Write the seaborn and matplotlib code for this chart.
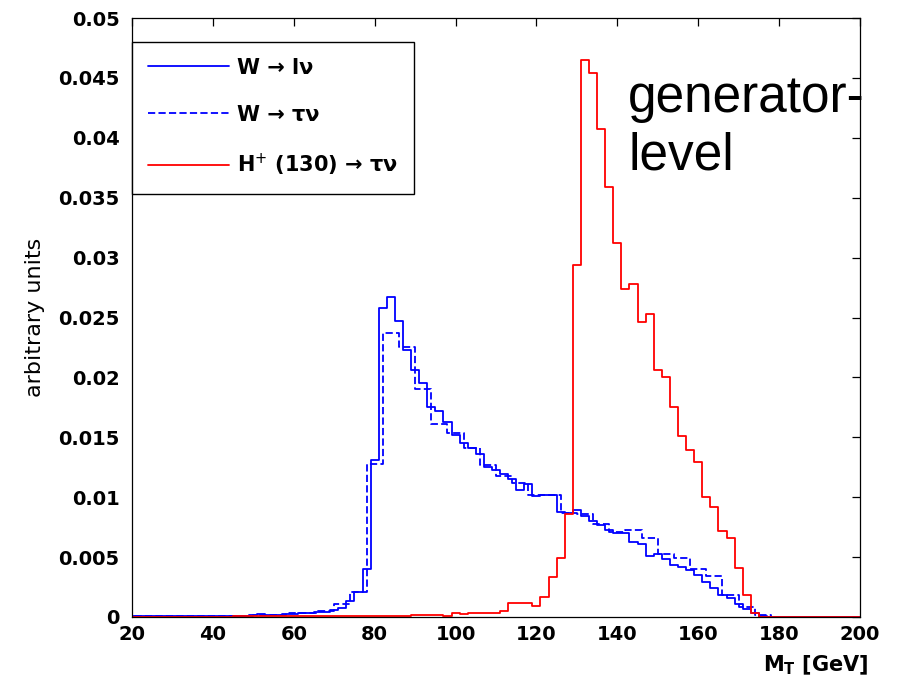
import numpy as np
import pandas as pd
import matplotlib
matplotlib.use("Agg")
import matplotlib.pyplot as plt
import seaborn as sns

# ---------------- data (values in units of 1e-3, "arbitrary units") ----------------
SCALE = 1e-3

# 2 GeV bins, centres 20 ... 200
mt_fine = list(range(20, 201, 2))
w_lnu = ([0.1] * 15 +
         [0.15, 0.25, 0.2, 0.2, 0.25, 0.25, 0.35, 0.35, 0.4, 0.45,
          0.6, 0.75, 1.3, 2.1, 4.0, 13.1, 25.8, 26.7, 24.7, 22.3,
          20.6, 19.5, 17.5, 17.2, 16.3, 15.2, 14.5, 14.1, 13.6, 12.5,
          12.3, 11.9, 11.5, 10.6, 11.1, 10.1, 10.2, 10.2, 8.8, 8.7,
          8.9, 8.4, 8.0, 7.7, 7.3, 7.0, 7.0, 6.3, 6.1, 5.1,
          5.3, 4.8, 4.3, 4.2, 3.9, 3.5, 2.9, 2.4, 1.8, 1.6,
          1.1, 0.7, 0.3, 0.1] +
         [0.0] * 12)
h_taunu = ([0.03] * 13 +
           [0.05] * 18 +
           [0.1, 0.1, 0.1, 0.1, 0.2, 0.2, 0.2, 0.2, 0.1, 0.3,
            0.25, 0.35, 0.3, 0.3, 0.3, 0.5, 1.2, 1.2, 1.15, 0.9,
            1.7, 3.3, 4.9, 8.6, 29.4, 46.5, 45.4, 40.7, 35.9, 31.2,
            27.4, 27.8, 24.6, 25.3, 20.6, 20.0, 17.5, 15.1, 13.9, 12.9,
            10.0, 9.2, 7.2, 6.6, 4.1, 1.8, 0.3] +
           [0.03] * 13)

# 4 GeV bins, centres 20 ... 200
mt_coarse = list(range(20, 201, 4))
w_taunu = ([0.1] * 8 +
           [0.2, 0.2, 0.3, 0.35, 0.5, 1.1, 2.1, 12.8, 23.7, 22.5,
            19.0, 16.1, 15.4, 14.1, 12.7, 11.8, 11.2, 10.2, 10.2, 8.7,
            8.6, 7.8, 7.1, 7.3, 6.6, 5.3, 4.9, 4.0, 3.4, 1.8,
            0.8, 0.15] +
           [0.0] * 6)

series_labels = ["W \u2192 l\u03bd", "W \u2192 \u03c4\u03bd", "H$^{+}$ (130) \u2192 \u03c4\u03bd"]
x_ticks = [20, 40, 60, 80, 100, 120, 140, 160, 180, 200]
y_ticks = [0, 0.005, 0.01, 0.015, 0.02, 0.025, 0.03, 0.035, 0.04, 0.045, 0.05]
y_tick_labels = ["0", "0.005", "0.01", "0.015", "0.02", "0.025", "0.03",
                 "0.035", "0.04", "0.045", "0.05"]

# ---------------- tables ----------------
df_fine = pd.DataFrame({"mt": mt_fine,
                        "w_lnu": np.array(w_lnu) * SCALE,
                        "h_taunu": np.array(h_taunu) * SCALE})
df_coarse = pd.DataFrame({"mt": mt_coarse, "w_taunu": np.array(w_taunu) * SCALE})
edges_fine = [float(e) for e in range(mt_fine[0] - 1, mt_fine[-1] + 2, 2)]
edges_coarse = [float(e) for e in range(mt_coarse[0] - 2, mt_coarse[-1] + 3, 4)]

# ---------------- style ----------------
sns.set_theme(style="white")
plt.rcParams["font.family"] = ["DejaVu Sans"]
plt.rcParams["axes.linewidth"] = 0.9
for key in ["text.color", "axes.labelcolor", "xtick.color", "ytick.color",
            "axes.edgecolor"]:
    plt.rcParams[key] = "black"

fig = plt.figure(figsize=(8.97, 6.88), dpi=100)
ax = fig.add_axes([132 / 897, 1 - 617 / 688, (860 - 132) / 897, (617 - 18) / 688])

BLUE = "#0000ff"
RED = "#ff0000"
LW = 1.3

sns.histplot(data=df_fine, x="mt", weights="w_lnu", bins=edges_fine,
             element="step", fill=False, color=BLUE, linewidth=LW, ax=ax)
h1 = ax.lines[-1]
sns.histplot(data=df_coarse, x="mt", weights="w_taunu", bins=edges_coarse,
             element="step", fill=False, color=BLUE, linewidth=LW,
             linestyle=(0, (4, 1.8)), ax=ax)
h2 = ax.lines[-1]
sns.histplot(data=df_fine, x="mt", weights="h_taunu", bins=edges_fine,
             element="step", fill=False, color=RED, linewidth=LW, ax=ax)
h3 = ax.lines[-1]

ax.set_xlim(20, 200)
ax.set_ylim(0, 0.05)
ax.set_xticks(x_ticks)
ax.set_xticklabels([str(t) for t in x_ticks])
ax.set_yticks(y_ticks)
ax.set_yticklabels(y_tick_labels)
ax.tick_params(axis="both", which="both", direction="in", length=5.5, width=0.9,
               top=True, right=True, labelsize=14, colors="black")
ax.tick_params(axis="y", pad=9)
ax.tick_params(axis="x", pad=6)
for lab in ax.get_xticklabels() + ax.get_yticklabels():
    lab.set_fontweight("bold")
for s in ax.spines.values():
    s.set_color("black")
    s.set_linewidth(0.9)

ax.set_ylabel("arbitrary units", fontsize=16, color="black")
ax.yaxis.set_label_coords(-0.119, 0.5)
ax.set_xlabel("M$_\\mathregular{T}$ [GeV]", fontsize=15, fontweight="bold",
              loc="right", color="black")
ax.xaxis.set_label_coords(1.012, -0.062)

leg = ax.legend([h1, h2, h3], series_labels, loc="upper left",
                bbox_to_anchor=(0.0, 0.96), borderaxespad=0, frameon=True,
                fancybox=False, edgecolor="black", framealpha=1,
                handlelength=3.9, handletextpad=0.4, labelspacing=1.3,
                borderpad=0.75, prop={"weight": "bold", "size": 15})
leg.get_frame().set_linewidth(1.0)
for t in leg.get_texts():
    t.set_color("black")

fig.text(628 / 897, 1 - 170 / 688, "generator-\nlevel", fontsize=37,
         family=["Liberation Sans", "DejaVu Sans"], ha="left", va="baseline",
         linespacing=1.23, color="black")

fig.savefig("out.png", dpi=100, facecolor="white")
